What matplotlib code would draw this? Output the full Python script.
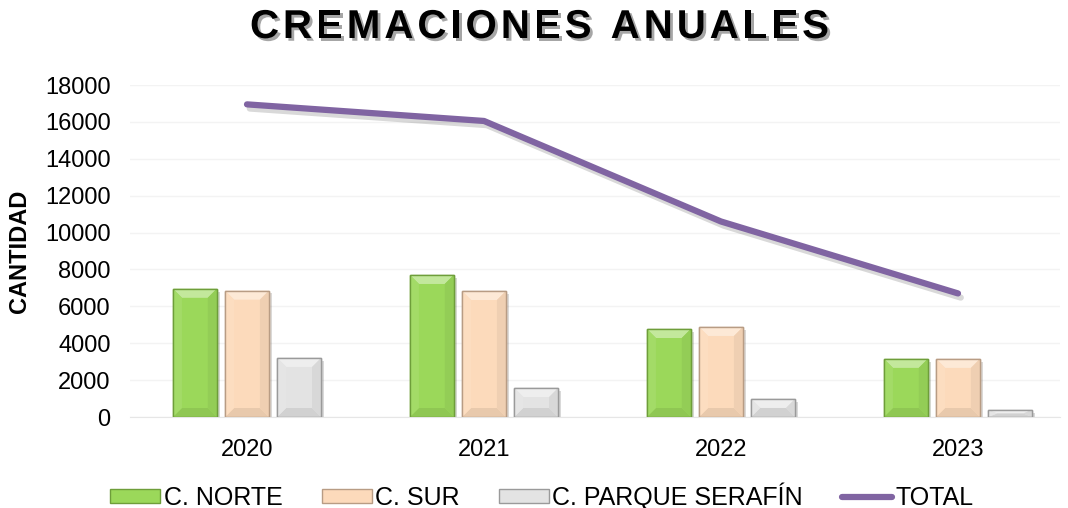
import matplotlib.pyplot as plt
import matplotlib.patheffects as pe
from matplotlib.patches import Polygon, Patch
from matplotlib.lines import Line2D
import numpy as np

years = ["2020", "2021", "2022", "2023"]
norte = [6950, 7700, 4770, 3150]
sur = [6850, 6830, 4880, 3150]
serafin = [3200, 1570, 980, 380]
total = [16950, 16050, 10600, 6700]

series = [
    ("C. NORTE", norte, "#9BD85A", "#6E9E3A"),
    ("C. SUR", sur, "#FCDABB", "#B89C84"),
    ("C. PARQUE SERAFÍN", serafin, "#E3E3E3", "#9A9A9A"),
]
title = "CREMACIONES ANUALES"

plt.rcParams['font.family'] = ['Liberation Sans', 'DejaVu Sans']

fig = plt.figure(figsize=(10.68, 5.08), dpi=100)
W, H = 1068, 508
ax = fig.add_axes([130 / W, (H - 417) / H, (1060 - 130) / W, (417 - 85) / H])

x = np.arange(len(years))
ax.set_xlim((130 - 247) / 237, (1060 - 247) / 237)
ax.set_ylim(0, 18000)

# pixel -> data conversion for the bevel
px_x = (ax.get_xlim()[1] - ax.get_xlim()[0]) / (1060 - 130)
px_y = 18000 / (417 - 85)


def shade(c, f):
    c = np.array(plt.matplotlib.colors.to_rgb(c))
    if f > 0:
        return tuple(c + (1 - c) * f)
    return tuple(c * (1 + f))


width = 0.185
offsets = [-0.22, 0.0, 0.22]
for (name, vals, face, edge), off in zip(series, offsets):
    bars = ax.bar(x + off, vals, width, color=face, edgecolor=edge, linewidth=1.0, zorder=2,
                  path_effects=[pe.SimplePatchShadow(offset=(2, -2), alpha=0.2), pe.Normal()])
    for b in bars:
        x0, y0 = b.get_x(), b.get_y()
        x1, y1 = x0 + b.get_width(), y0 + b.get_height()
        dx = 9 * px_x
        dy = min(9 * px_y, (y1 - y0) / 2)
        ix0, ix1, iy0, iy1 = x0 + dx, x1 - dx, y0 + dy, y1 - dy
        polys = [
            ([(x0, y1), (x1, y1), (ix1, iy1), (ix0, iy1)], shade(face, 0.4)),
            ([(x0, y0), (x1, y0), (ix1, iy0), (ix0, iy0)], shade(face, -0.08)),
            ([(x0, y0), (x0, y1), (ix0, iy1), (ix0, iy0)], shade(face, 0.08)),
            ([(x1, y0), (x1, y1), (ix1, iy1), (ix1, iy0)], shade(face, -0.05)),
        ]
        for pts, col in polys:
            ax.add_patch(Polygon(pts, closed=True, facecolor=col, edgecolor='none', zorder=3))
        ax.add_patch(plt.Rectangle((x0, y0), x1 - x0, y1 - y0, fill=False,
                                   edgecolor=edge, linewidth=1.0, zorder=4))

ax.plot(x, total, color="#8064A2", linewidth=4.5, solid_capstyle='round', zorder=5,
        path_effects=[pe.SimpleLineShadow(offset=(2, -3), alpha=0.15), pe.Normal()])

ax.set_yticks(np.arange(0, 18001, 2000))
ax.set_xticks(x)
ax.set_xticklabels(years)
ax.tick_params(axis='both', length=0, labelsize=17)
ax.tick_params(axis='y', pad=14)
ax.tick_params(axis='x', pad=16)
ax.yaxis.grid(True, color='#F3F3F3', linewidth=1, zorder=0)
ax.set_axisbelow(True)
for s in ['top', 'right', 'left']:
    ax.spines[s].set_visible(False)
ax.spines['bottom'].set_color('#E6E6E6')

fig.text(20 / W, (H - 251) / H, "CANTIDAD", rotation=90, fontsize=17, fontweight='bold',
         ha='center', va='center')

# title with letter spacing, laid out char by char
renderer = fig.canvas.get_renderer()
tkw = dict(fontsize=29, fontweight='bold', va='center', ha='left',
           path_effects=[pe.SimplePatchShadow(offset=(2, -2), alpha=0.35), pe.Normal()])
widths = []
for ch in title:
    t = fig.text(0, 0, ch if ch != ' ' else 'I', **tkw)
    widths.append(t.get_window_extent(renderer).width)
    t.remove()
left, right = 250, 829
gap = (right - left - sum(widths)) / (len(title) - 1)
xp = left
for ch, w in zip(title, widths):
    if ch != ' ':
        fig.text(xp / W, (H - 27) / H, ch, **tkw)
    xp += w + gap

handles = [Patch(facecolor=s[2], edgecolor=s[3]) for s in series]
handles.append(Line2D([0], [0], color="#8064A2", linewidth=4.5, solid_capstyle='round'))
labels = [s[0] for s in series] + ["TOTAL"]
fig.legend(handles, labels, loc='center', bbox_to_anchor=(542 / W, (H - 496) / H), ncol=4,
           frameon=False, handlelength=2.0, handleheight=0.45, handletextpad=0.15,
           columnspacing=1.55, prop={'size': 18})

fig.savefig("out.png", dpi=100)
